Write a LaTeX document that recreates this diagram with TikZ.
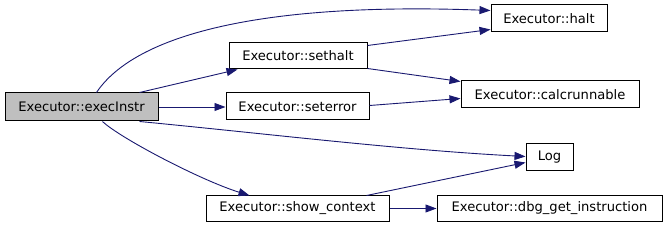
\documentclass[tikz,border=0pt]{standalone}
\usepackage{fontspec}
\setmainfont{DejaVu Sans}
\usetikzlibrary{arrows.meta,calc}
\definecolor{edgeblue}{HTML}{191970}
\definecolor{hlgray}{HTML}{BFBFBF}
\begin{document}
\begin{tikzpicture}[x=1pt,y=-1pt,
  fn/.style={draw=black,line width=1pt,inner sep=0pt,fill=white,
    font=\fontsize{13.1}{15}\selectfont},
  call/.style={draw=edgeblue,line width=0.9pt,
    -{Triangle[length=11pt,width=8pt]}, edgeblue}]
\useasboundingbox (0,0) rectangle (667,227);
\node[fn,fill=hlgray,minimum width=153pt,minimum height=28pt] (exec) at (81.5,107) {Executor::execInstr};
\node[fn,minimum width=138pt,minimum height=26pt] (sethalt) at (298,56) {Executor::sethalt};
\node[fn,minimum width=143pt,minimum height=27pt] (seterror) at (297.5,106.5) {Executor::seterror};
\node[fn,minimum width=116pt,minimum height=27pt] (halt) at (549,18.5) {Executor::halt};
\node[fn,minimum width=178pt,minimum height=27pt] (calc) at (550,94.5) {Executor::calcrunnable};
\node[fn,minimum width=47pt,minimum height=27pt] (log) at (549.5,157.5) {Log};
\node[fn,minimum width=183pt,minimum height=25pt] (show) at (297.5,208.5) {Executor::show\_context};
\node[fn,minimum width=225pt,minimum height=26pt] (dbg) at (549.5,208.5) {Executor::dbg\_get\_instruction};

\draw[call] ($(exec.north west)+(92,0)$) .. controls (135,35) and (260,2) .. ($(halt.north west)+(0,6)$);
\draw[call] ($(exec.north west)+(135,0)$) -- ($(sethalt.south west)+(9,0)$);
\draw[call] (exec.east) -- (exec.east -| seterror.west);
\draw[call] ($(exec.south west)+(135,0)$) .. controls (260,133) and (400,150) .. ($(log.north west)+(0,13)$);
\draw[call] ($(exec.south west)+(98,0)$) .. controls (120,138) and (200,180) .. ($(show.north west)+(44,0)$);
\draw[call] ($(sethalt.north east)+(0,3)$) -- ($(halt.south west)+(0,-3)$);
\draw[call] ($(sethalt.south east)+(0,-1)$) -- ($(calc.north west)+(0,1)$);
\draw[call] ($(seterror.north east)+(0,13)$) -- ($(calc.north west)+(0,18)$);
\draw[call] ($(show.north west)+(161,0)$) -- ($(log.north west)+(0,19)$);
\draw[call] (show.east) -- (dbg.west);
\end{tikzpicture}
\end{document}
